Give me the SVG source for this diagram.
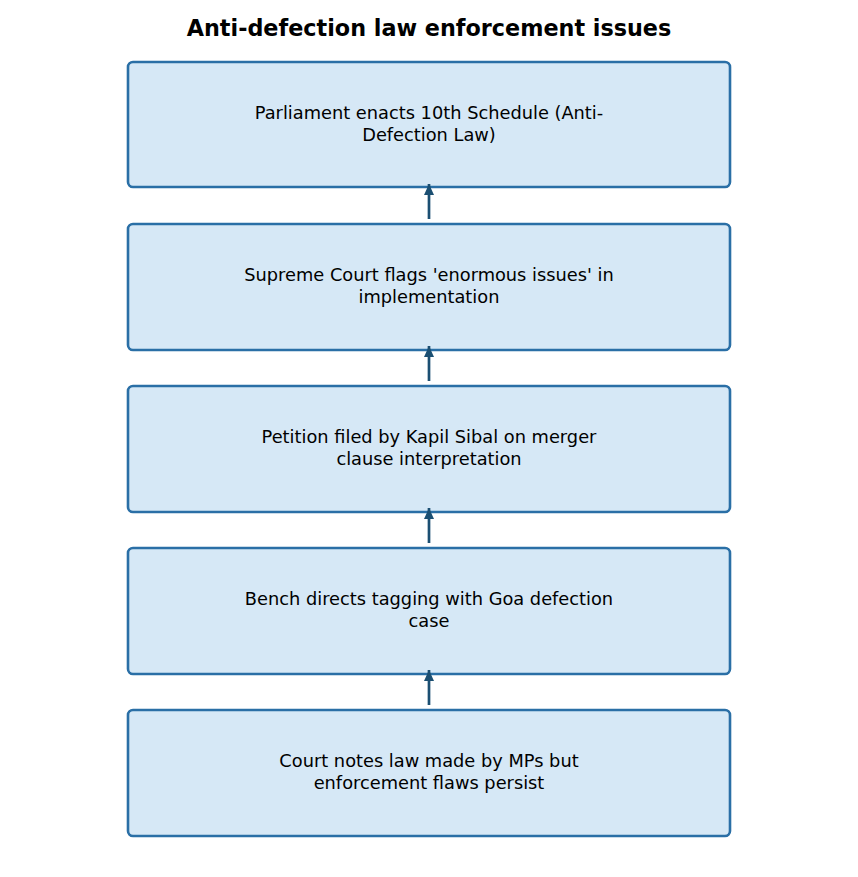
<svg xmlns="http://www.w3.org/2000/svg" width="858" height="877" viewBox="0 0 858 877">
<style>
.box{fill:#d6e8f6;stroke:#2a6fa6;stroke-width:2.6}
.lbl{font-family:"DejaVu Sans",sans-serif;font-size:17.8px;fill:#000;text-anchor:middle}
.title{font-family:"DejaVu Sans",sans-serif;font-size:22.3px;font-weight:bold;fill:#000;text-anchor:middle}
.conn{stroke:#1b4f72;stroke-width:2.7;fill:none}
</style>
<defs>
<marker id="ah" viewBox="0 0 11 10" refX="11" refY="5" markerWidth="11" markerHeight="10" markerUnits="userSpaceOnUse" orient="auto">
<path d="M0,0 L11,5 L0,10 z" fill="#1b4f72"/>
</marker>
</defs>
<rect width="858" height="877" fill="#fff"/>
<text class="title" x="429" y="36">Anti-defection law enforcement issues</text>
<g id="n1"><rect class="box" x="128" y="62" width="602" height="125" rx="5"/>
<text class="lbl" x="429" y="119">Parliament enacts 10th Schedule (Anti-</text>
<text class="lbl" x="429" y="141">Defection Law)</text></g>
<g id="n2"><rect class="box" x="128" y="224" width="602" height="126" rx="5"/>
<text class="lbl" x="429" y="281">Supreme Court flags 'enormous issues' in</text>
<text class="lbl" x="429" y="303">implementation</text></g>
<g id="n3"><rect class="box" x="128" y="386" width="602" height="126" rx="5"/>
<text class="lbl" x="429" y="443">Petition filed by Kapil Sibal on merger</text>
<text class="lbl" x="429" y="465">clause interpretation</text></g>
<g id="n4"><rect class="box" x="128" y="548" width="602" height="126" rx="5"/>
<text class="lbl" x="429" y="605">Bench directs tagging with Goa defection</text>
<text class="lbl" x="429" y="627">case</text></g>
<g id="n5"><rect class="box" x="128" y="710" width="602" height="126" rx="5"/>
<text class="lbl" x="429" y="767">Court notes law made by MPs but</text>
<text class="lbl" x="429" y="789">enforcement flaws persist</text></g>
<g id="connectors">
<line class="conn" x1="429" y1="219" x2="429" y2="184" marker-end="url(#ah)"/>
<line class="conn" x1="429" y1="381" x2="429" y2="346" marker-end="url(#ah)"/>
<line class="conn" x1="429" y1="543" x2="429" y2="508" marker-end="url(#ah)"/>
<line class="conn" x1="429" y1="705" x2="429" y2="670" marker-end="url(#ah)"/>
</g>
</svg>
